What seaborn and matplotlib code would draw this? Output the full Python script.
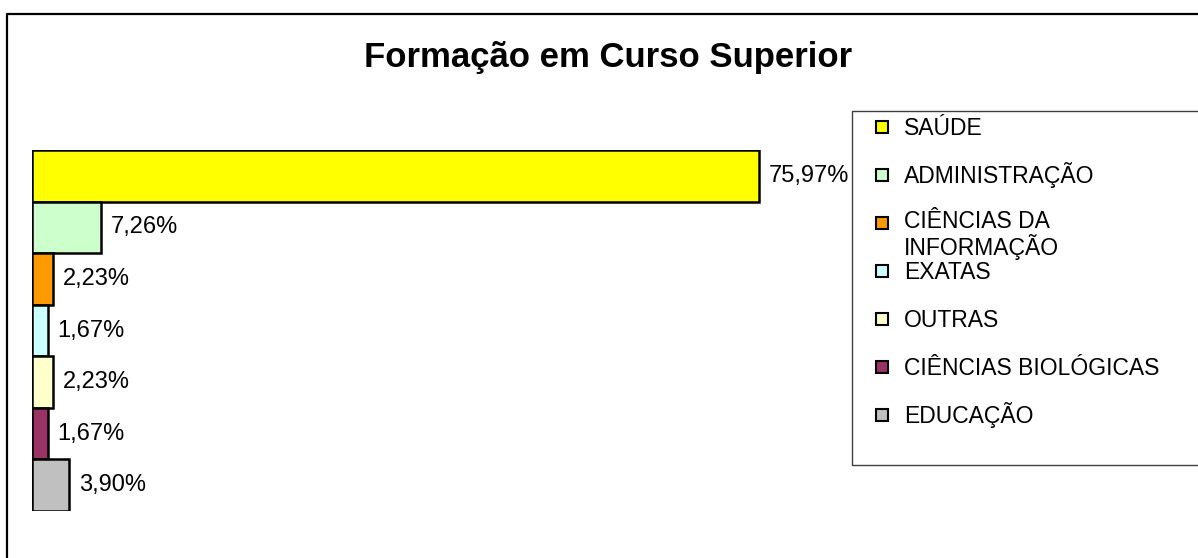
import matplotlib
matplotlib.use("Agg")
import matplotlib.pyplot as plt
import matplotlib.patches as mpatches
from matplotlib.lines import Line2D
import seaborn as sns
import pandas as pd

# ── Data ──────────────────────────────────────────────────────────────────────
CATEGORIAS = ["SAÚDE", "ADMINISTRAÇÃO", "CIÊNCIAS DA INFORMAÇÃO", "EXATAS",
              "OUTRAS", "CIÊNCIAS BIOLÓGICAS", "EDUCAÇÃO"]
LEGENDA    = ["SAÚDE", "ADMINISTRAÇÃO", "CIÊNCIAS DA\nINFORMAÇÃO", "EXATAS",
              "OUTRAS", "CIÊNCIAS BIOLÓGICAS", "EDUCAÇÃO"]
PERCENTUAL = [75.97, 7.26, 2.23, 1.67, 2.23, 1.67, 3.90]
CORES      = ["#FFFF00", "#CCFFCC", "#FF9900", "#CCFFFF", "#FFFFCC", "#993366", "#C0C0C0"]
TITULO     = "Formação em Curso Superior"

df = pd.DataFrame({"categoria": CATEGORIAS, "pct": PERCENTUAL})

# ── Style ─────────────────────────────────────────────────────────────────────
sns.set_style("white")
plt.rcParams["font.family"] = ["Liberation Sans", "DejaVu Sans"]
plt.rcParams["text.color"] = "black"

W, H = 1198, 558


def fx(px):
    return px / W


def fy(py):
    return 1 - py / H


fig = plt.figure(figsize=(W / 100, H / 100), dpi=100)

# plot area: bars from y=150 to y=511, x origin at 32
ax = fig.add_axes([fx(32), fy(511), fx(818), (511 - 150) / H])
sns.barplot(data=df, x="pct", y="categoria", hue="categoria", palette=CORES,
            orient="h", width=1.0, saturation=1, edgecolor="black",
            linewidth=1.8, legend=False, ax=ax)
ax.set_xlim(0, 818 / 9.57)
ax.set_axis_off()

for cont, v in zip(ax.containers, PERCENTUAL):
    ax.bar_label(cont, labels=[f"{v:.2f}%".replace(".", ",")],
                 padding=7, fontsize=17, color="black")

# title
fig.text(fx(608), fy(57), TITULO, ha="center", va="center",
         fontsize=25, fontweight="bold", color="black")

# outer chart border (only left and top visible)
fig.add_artist(Line2D([fx(7), fx(7), fx(W + 20)], [fy(H + 20), fy(14), fy(14)],
                      transform=fig.transFigure, color="black", linewidth=1.6))

# legend frame (runs past the right edge)
fig.add_artist(Line2D([fx(W + 20), fx(852), fx(852), fx(W + 20)],
                      [fy(111), fy(111), fy(465), fy(465)],
                      transform=fig.transFigure, color="#404040", linewidth=1))

# legend entries, one row every 48 px; the two-line label overlaps the next row
for i, (lab, cor) in enumerate(zip(LEGENDA, CORES)):
    yc = 127 + 48 * i
    n_lines = lab.count("\n")
    fig.add_artist(mpatches.Rectangle((fx(876), fy(yc + 6)), 12 / W, 12 / H,
                                      transform=fig.transFigure, facecolor=cor,
                                      edgecolor="black", linewidth=1.5))
    fig.text(fx(904), fy(yc + 8 + 24 * n_lines), lab, ha="left", va="baseline",
             fontsize=16.5, linespacing=1.05, color="black")

fig.savefig("out.png", dpi=100)
